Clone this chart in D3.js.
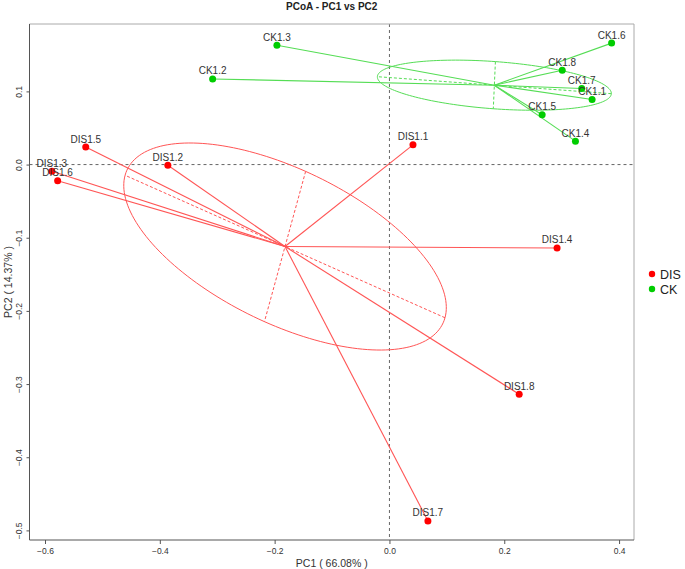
<!DOCTYPE html>
<html>
<head>
<meta charset="utf-8">
<script src="https://cdn.jsdelivr.net/npm/d3@7"></script>
<style>
  body { margin: 0; background: #fff; }
  svg { font-family: "Liberation Sans", Arial, sans-serif; }
</style>
</head>
<body>
<script>
// Sample scores on the first two principal coordinates
var disLabels = ["DIS1.1", "DIS1.2", "DIS1.3", "DIS1.4", "DIS1.5", "DIS1.6", "DIS1.7", "DIS1.8"];
var disPC1 = [0.041, -0.386, -0.588, 0.292, -0.529, -0.578, 0.067, 0.226];
var disPC2 = [0.027, -0.001, -0.009, -0.114, 0.024, -0.022, -0.487, -0.314];

var ckLabels = ["CK1.1", "CK1.2", "CK1.3", "CK1.4", "CK1.5", "CK1.6", "CK1.7", "CK1.8"];
var ckPC1 = [0.353, -0.308, -0.196, 0.324, 0.266, 0.387, 0.335, 0.301];
var ckPC2 = [0.089, 0.117, 0.163, 0.032, 0.068, 0.166, 0.104, 0.129];

var xTicks = [-0.6, -0.4, -0.2, 0.0, 0.2, 0.4];
var yTicks = [0.1, 0.0, -0.1, -0.2, -0.3, -0.4, -0.5];

var groupNames = ["DIS", "CK"];
var groupColors = ["#ff0000", "#00cd00"];
var lineColors = ["#ff5555", "#55dd55"];

var width = 685, height = 569;
var margin = { left: 29.5, right: 51, top: 24, bottom: 29 };

var svg = d3.select("body").append("svg")
    .attr("width", width)
    .attr("height", height);

// groups built from the arrays above
var groups = [
    { name: "DIS", labels: disLabels, x: disPC1, y: disPC2 },
    { name: "CK", labels: ckLabels, x: ckPC1, y: ckPC2 }
];

// R style range: data extent padded by 4%
var allX = disPC1.concat(ckPC1), allY = disPC2.concat(ckPC2);
function padded(ext) {
    var d = (ext[1] - ext[0]) * 0.04;
    return [ext[0] - d, ext[1] + d];
}
var x = d3.scaleLinear().domain(padded(d3.extent(allX)))
    .range([margin.left, width - margin.right]);
var y = d3.scaleLinear().domain(padded(d3.extent(allY)))
    .range([height - margin.bottom, margin.top]);

var x0 = x.range()[0], x1 = x.range()[1], y0 = y.range()[1], y1 = y.range()[0];

// title
svg.append("text")
    .attr("x", (x0 + x1) / 2).attr("y", 10)
    .attr("text-anchor", "middle")
    .attr("font-size", 10).attr("font-weight", "bold")
    .attr("fill", "#222")
    .text("PCoA - PC1 vs PC2");

// zero lines
svg.append("line")
    .attr("x1", x(0)).attr("x2", x(0)).attr("y1", y0).attr("y2", y1)
    .attr("stroke", "#666").attr("stroke-dasharray", "3,3");
svg.append("line")
    .attr("x1", x0).attr("x2", x1).attr("y1", y(0)).attr("y2", y(0))
    .attr("stroke", "#666").attr("stroke-dasharray", "3,3");

// ellipse, centroid lines and points per group
var k = 0.8;
groups.forEach(function (g, gi) {
    var n = g.x.length;
    var mx = d3.mean(g.x), my = d3.mean(g.y);
    var vx = d3.mean(g.x, function (v) { return (v - mx) * (v - mx); });
    var vy = d3.mean(g.y, function (v) { return (v - my) * (v - my); });
    var cxy = d3.mean(d3.range(n), function (i) { return (g.x[i] - mx) * (g.y[i] - my); });
    // eigen decomposition of the 2x2 covariance
    var tr = vx + vy, det = vx * vy - cxy * cxy;
    var disc = Math.sqrt(tr * tr / 4 - det);
    var l1 = tr / 2 + disc, l2 = tr / 2 - disc;
    var v1 = [cxy, l1 - vx];
    if (Math.abs(cxy) < 1e-12) v1 = [1, 0];
    var nv = Math.hypot(v1[0], v1[1]);
    v1 = [v1[0] / nv, v1[1] / nv];
    var v2 = [-v1[1], v1[0]];
    var a = k * Math.sqrt(l1), b = k * Math.sqrt(l2);

    var pts = d3.range(0, 361, 2).map(function (deg) {
        var t = deg * Math.PI / 180;
        return [mx + a * Math.cos(t) * v1[0] + b * Math.sin(t) * v2[0],
                my + a * Math.cos(t) * v1[1] + b * Math.sin(t) * v2[1]];
    });
    var line = d3.line().x(function (d) { return x(d[0]); }).y(function (d) { return y(d[1]); });

    svg.append("path").datum(pts)
        .attr("d", line)
        .attr("fill", "none")
        .attr("stroke", lineColors[gi]).attr("stroke-width", 1);

    // dashed ellipse axes
    [[a, v1], [b, v2]].forEach(function (ax) {
        svg.append("line")
            .attr("x1", x(mx - ax[0] * ax[1][0])).attr("y1", y(my - ax[0] * ax[1][1]))
            .attr("x2", x(mx + ax[0] * ax[1][0])).attr("y2", y(my + ax[0] * ax[1][1]))
            .attr("stroke", lineColors[gi]).attr("stroke-dasharray", "3,2");
    });

    // centroid to point lines
    svg.append("g").selectAll("line")
        .data(d3.range(n)).enter().append("line")
        .attr("x1", x(mx)).attr("y1", y(my))
        .attr("x2", function (i) { return x(g.x[i]); })
        .attr("y2", function (i) { return y(g.y[i]); })
        .attr("stroke", lineColors[gi]).attr("stroke-width", 1.1);
});

groups.forEach(function (g, gi) {
    var n = g.x.length;
    svg.append("g").selectAll("circle")
        .data(d3.range(n)).enter().append("circle")
        .attr("cx", function (i) { return x(g.x[i]); })
        .attr("cy", function (i) { return y(g.y[i]); })
        .attr("r", 3.5)
        .attr("fill", groupColors[gi]);

    svg.append("g").selectAll("text")
        .data(d3.range(n)).enter().append("text")
        .attr("x", function (i) { return x(g.x[i]); })
        .attr("y", function (i) { return y(g.y[i]) - 4.5; })
        .attr("text-anchor", "middle")
        .attr("font-size", 10)
        .attr("fill", "#333")
        .text(function (i) { return g.labels[i]; });
});

// frame
svg.append("line").attr("x1", x0).attr("x2", x1).attr("y1", y0).attr("y2", y0).attr("stroke", "#aaa");
svg.append("line").attr("x1", x1).attr("x2", x1).attr("y1", y0).attr("y2", y1).attr("stroke", "#aaa");
svg.append("line").attr("x1", x0).attr("x2", x0).attr("y1", y0).attr("y2", y1).attr("stroke", "#555");
svg.append("line").attr("x1", x0).attr("x2", x1).attr("y1", y1).attr("y2", y1).attr("stroke", "#555");

// axes
var xAxis = svg.append("g")
    .attr("transform", "translate(0," + y1 + ")")
    .call(d3.axisBottom(x).tickValues(xTicks).tickSize(4).tickPadding(4)
        .tickFormat(d3.format(".1f")));
xAxis.select(".domain").remove();
xAxis.selectAll("text").attr("font-size", 8.5).attr("fill", "#333")
    .attr("font-family", "Liberation Sans, Arial, sans-serif");
xAxis.selectAll("line").attr("stroke", "#555");

var yAxis = svg.append("g")
    .attr("transform", "translate(" + x0 + ",0)")
    .call(d3.axisLeft(y).tickValues(yTicks).tickSize(3).tickFormat(d3.format(".1f")));
yAxis.select(".domain").remove();
yAxis.selectAll("line").attr("stroke", "#555");
yAxis.selectAll("text")
    .attr("font-size", 8.5).attr("fill", "#333")
    .attr("font-family", "Liberation Sans, Arial, sans-serif")
    .attr("x", null).attr("dy", null)
    .attr("text-anchor", "middle")
    .attr("transform", "translate(-8,0) rotate(-90)");

// axis titles
svg.append("text")
    .attr("x", (x0 + x1) / 2).attr("y", 567)
    .attr("text-anchor", "middle")
    .attr("font-size", 10.5).attr("fill", "#333")
    .text("PC1 ( 66.08% )");
svg.append("text")
    .attr("transform", "translate(12," + ((y0 + y1) / 2) + ") rotate(-90)")
    .attr("text-anchor", "middle")
    .attr("font-size", 10.5).attr("fill", "#333")
    .text("PC2 ( 14.37% )");

// legend
var legend = svg.append("g").attr("transform", "translate(652,274)");
groupNames.forEach(function (name, i) {
    legend.append("circle").attr("cx", 0).attr("cy", i * 15).attr("r", 3.2).attr("fill", groupColors[i]);
    legend.append("text").attr("x", 8).attr("y", i * 15 + 4.5)
        .attr("font-size", 12.5).attr("fill", "#222").text(name);
});
</script>
</body>
</html>
